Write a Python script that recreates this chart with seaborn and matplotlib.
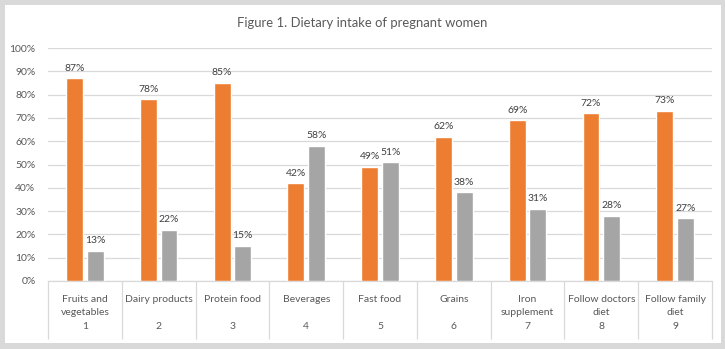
import numpy as np
import pandas as pd
import matplotlib
matplotlib.use("Agg")
import matplotlib.pyplot as plt
import seaborn as sns
from matplotlib.patches import Rectangle

categories = ["Fruits and\nvegetables", "Dairy products", "Protein food", "Beverages",
              "Fast food", "Grains", "Iron\nsupplement", "Follow doctors\ndiet",
              "Follow family\ndiet"]
numbers = ["1", "2", "3", "4", "5", "6", "7", "8", "9"]
yes_values = [87, 78, 85, 42, 49, 62, 69, 72, 73]
no_values = [13, 22, 15, 58, 51, 38, 31, 28, 27]
series_names = ["Yes", "No"]
colors = ["#ED7D31", "#A5A5A5"]
title = "Figure 1. Dietary intake of pregnant women"

df = pd.DataFrame({
    "cat": categories * 2,
    "value": yes_values + no_values,
    "series": [series_names[0]] * len(categories) + [series_names[1]] * len(categories),
})

sns.set_theme(style="white")
plt.rcParams["font.family"] = ["Lato", "DejaVu Sans"]
txt = "#595959"

fig = plt.figure(figsize=(7.25, 3.49), dpi=100)
fig.patch.set_facecolor("#d9d9d9")
bg = Rectangle((5 / 725, 6 / 349), 716 / 725, 338 / 349,
               transform=fig.transFigure, facecolor="white",
               edgecolor="none", zorder=-10)
fig.patches.append(bg)
ax = fig.add_axes([48 / 725, 68 / 349, 664 / 725, 233 / 349])
ax.set_zorder(5)
ax.set_facecolor("none")

sns.barplot(data=df, x="cat", y="value", hue="series", palette=colors,
            saturation=1, width=0.56, gap=0.18, ax=ax, legend=False, zorder=3)

for cont in ax.containers:
    ax.bar_label(cont, labels=[f"{int(v)}%" for v in cont.datavalues],
                 padding=4, fontsize=7.5, color="#404040")

ax.set_ylim(0, 100)
ax.set_xlim(-0.5, len(categories) - 0.5)
ax.set_yticks(np.arange(0, 101, 10))
ax.set_yticklabels([f"{v}%" for v in range(0, 101, 10)], fontsize=7.5, color=txt)
ax.yaxis.grid(True, color="#d9d9d9", linewidth=0.9, zorder=0)
ax.set_axisbelow(True)

ax.set_xticks(range(len(categories)))
ax.set_xticklabels(categories, fontsize=7.5, color=txt, va="top", linespacing=1.6)
ax.set_xticks(np.arange(-0.5, len(categories)), minor=True)
ax.tick_params(axis="x", which="major", length=0, pad=10, bottom=True)
ax.tick_params(axis="x", which="minor", length=42, color="#d9d9d9", width=0.9,
               bottom=True, direction="out")
ax.tick_params(axis="y", length=0, pad=9)

for i, n in enumerate(numbers):
    ax.annotate(n, xy=(i, 0), xycoords=("data", "axes fraction"),
                xytext=(0, -33), textcoords="offset points",
                ha="center", va="center", fontsize=7.5, color=txt)

ax.set_xlabel("")
ax.set_ylabel("")
for s in ["top", "right", "left"]:
    ax.spines[s].set_visible(False)
ax.spines["bottom"].set_color("#d9d9d9")
ax.spines["bottom"].set_linewidth(0.9)

fig.text(362 / 725, 1 - 23 / 349, title, ha="center", va="center",
         fontsize=9.4, color=txt)

fig.savefig("out.png", dpi=100, facecolor=fig.get_facecolor())
